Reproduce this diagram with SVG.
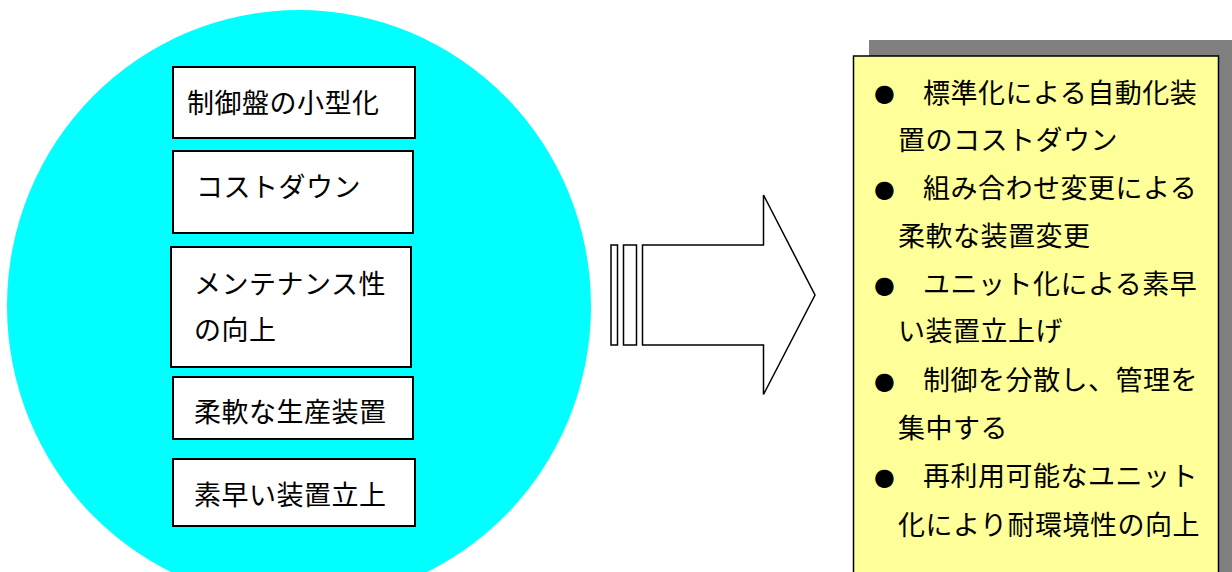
<svg xmlns="http://www.w3.org/2000/svg" width="1232" height="572" viewBox="0 0 1232 572">
<style>
.t{font-family:"Noto Sans CJK JP","Noto Sans CJK SC",sans-serif;font-size:27px;fill:#000;letter-spacing:0.5px}
.b{fill:#fff;stroke:#000;stroke-width:2}
.bul{font-family:"DejaVu Sans",sans-serif;font-size:24px;fill:#000}
</style>
<rect width="1232" height="572" fill="#fff"/>
<g id="circle">
<ellipse cx="299" cy="306" rx="292" ry="296" fill="#00FFFF"/>
</g>
<g id="box1"><rect class="b" x="173" y="67" width="242" height="71"/><text class="t" x="187" y="113">制御盤の小型化</text></g>
<g id="box2"><rect class="b" x="173" y="151" width="240" height="82"/><text class="t" x="196" y="197">コストダウン</text></g>
<g id="box3"><rect class="b" x="171" y="247" width="240" height="120"/><text class="t" x="194" y="294">メンテナンス性</text><text class="t" x="194" y="340">の向上</text></g>
<g id="box4"><rect class="b" x="173" y="377" width="240" height="62"/><text class="t" x="194" y="422">柔軟な生産装置</text></g>
<g id="box5"><rect class="b" x="173" y="459" width="242" height="67"/><text class="t" x="194" y="505">素早い装置立上</text></g>
<g id="connectors">
<rect x="611" y="245" width="6.5" height="100" fill="#fff" stroke="#000" stroke-width="1.5"/>
<rect x="623.5" y="245" width="13" height="100" fill="#fff" stroke="#000" stroke-width="1.5"/>
<path d="M642.5,245 H763.5 V195 L815,295 L763.5,394.5 V345 H642.5 Z" fill="#fff" stroke="#000" stroke-width="1.5"/>
</g>
<g id="results">
<rect x="869" y="40" width="370" height="540" fill="#808080"/>
<rect x="853.5" y="56" width="365" height="530" fill="#FFFF99" stroke="#000" stroke-width="1.5"/>
<text class="bul" x="874" y="101">●</text>
<text class="t" x="923" y="103">標準化による自動化装</text>
<text class="t" x="898" y="150">置のコストダウン</text>
<text class="bul" x="874" y="197">●</text>
<text class="t" x="923" y="198">組み合わせ変更による</text>
<text class="t" x="898" y="246">柔軟な装置変更</text>
<text class="bul" x="874" y="293">●</text>
<text class="t" x="923" y="294">ユニット化による素早</text>
<text class="t" x="898" y="341">い装置立上げ</text>
<text class="bul" x="874" y="389">●</text>
<text class="t" x="923" y="390">制御を分散し、管理を</text>
<text class="t" x="898" y="438">集中する</text>
<text class="bul" x="874" y="485">●</text>
<text class="t" x="923" y="486">再利用可能なユニット</text>
<text class="t" x="898" y="535">化により耐環境性の向上</text>
</g>
</svg>
